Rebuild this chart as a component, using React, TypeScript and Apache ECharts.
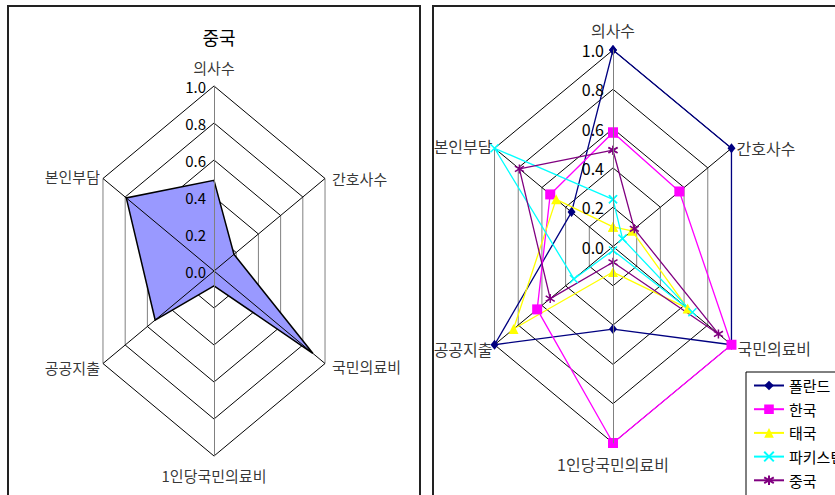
import React, { useEffect, useRef } from 'react';
import * as echarts from 'echarts';

// Radar axes, clockwise from the top
const AXES = ['의사수', '간호사수', '국민의료비', '1인당국민의료비', '공공지출', '본인부담'];
const RING_LEVELS = [0.2, 0.4, 0.6, 0.8, 1.0];
const COUNTRIES = ['폴란드', '한국', '태국', '파키스탄', '중국'];
const POLAND = [1.0, 1.0, 1.0, 0.42, 1.0, 0.35];
const KOREA = [0.58, 0.56, 1.0, 1.0, 0.64, 0.53];
const THAILAND = [0.1, 0.16, 0.63, 0.13, 0.84, 0.48];
const PAKISTAN = [0.24, 0.08, 0.67, 0.02, 0.33, 1.0];
const CHINA = [0.49, 0.18, 0.89, 0.08, 0.53, 0.79];
const LEFT_TITLE = '중국';

const FONT = '"Noto Sans CJK KR", "Noto Sans", sans-serif';

// value v on radar axis i -> point in the [-1, 1] plane
const polar = (i: number, v: number): [number, number] => [
  v * Math.sin((i * Math.PI) / 3),
  v * Math.cos((i * Math.PI) / 3),
];

// hexagon rings; vertical edges flagged to be drawn grey
function ringSegments() {
  const segs: number[][] = [];
  RING_LEVELS.forEach((r) => {
    for (let i = 0; i < 6; i++) {
      const j = (i + 1) % 6;
      const a = polar(i, r);
      const b = polar(j, r);
      segs.push([a[0], a[1], b[0], b[1], i === 1 || i === 4 ? 1 : 0]);
    }
  });
  return segs;
}

// slanted spokes (the vertical ones come from the value axis line)
function spokeSegments() {
  return [1, 2, 4, 5].map((i) => {
    const p = polar(i, 1);
    return [0, 0, p[0], p[1], 0];
  });
}

function segmentSeries(idx: number, data: number[][], z: number) {
  return {
    type: 'custom',
    xAxisIndex: idx,
    yAxisIndex: idx,
    silent: true,
    z,
    encode: { x: [0, 2], y: [1, 3] },
    data,
    renderItem: (_p: any, api: any) => {
      const p1 = api.coord([api.value(0), api.value(1)]);
      const p2 = api.coord([api.value(2), api.value(3)]);
      return {
        type: 'line',
        shape: { x1: p1[0], y1: p1[1], x2: p2[0], y2: p2[1] },
        style: { stroke: api.value(4) === 1 ? '#808080' : '#000', lineWidth: 1 },
      };
    },
  };
}

type LabelCfg = { position: string; distance: number; offset?: number[] };

function axisNameSeries(idx: number, fontSize: number, cfg: LabelCfg[]) {
  return {
    type: 'scatter',
    xAxisIndex: idx,
    yAxisIndex: idx,
    silent: true,
    symbolSize: 0,
    z: 5,
    data: AXES.map((name, i) => ({
      name,
      value: polar(i, 1),
      label: {
        show: true,
        formatter: '{b}',
        position: cfg[i].position,
        distance: cfg[i].distance,
        offset: cfg[i].offset || [0, 0],
        fontSize,
        fontFamily: FONT,
        color: '#000',
      },
    })),
  };
}

const closed = (vals: number[]) => [...vals, vals[0]].map((v, i) => polar(i % 6, v));

function countrySeries(name: string, vals: number[], color: string, symbol: string, size: any, stroke: boolean) {
  return {
    name,
    type: 'line',
    xAxisIndex: 1,
    yAxisIndex: 1,
    clip: false,
    z: 3,
    data: closed(vals),
    symbol,
    symbolSize: size,
    showSymbol: true,
    lineStyle: { color, width: 1.3 },
    itemStyle: stroke
      ? { color, borderColor: color, borderWidth: 1.5 }
      : { color, borderWidth: 0 },
  };
}

// value axis drawn through the centre of the hexagon (offset = -half grid width)
function valueAxes(idx: number, halfWidth: number, fontSize: number, margin: number) {
  return {
    x: {
      type: 'value',
      gridIndex: idx,
      min: -1,
      max: 1,
      show: false,
    },
    y: {
      type: 'value',
      gridIndex: idx,
      min: -1,
      max: 1,
      interval: 0.2,
      offset: -halfWidth,
      z: 4,
      axisLine: { show: true, onZero: false, lineStyle: { color: '#808080', width: 1 } },
      axisTick: { show: false },
      splitLine: { show: false },
      axisLabel: {
        margin,
        fontSize,
        fontFamily: FONT,
        color: '#000',
        formatter: (v: number) => (v < -0.001 ? '' : Math.abs(v).toFixed(1)),
      },
    },
  };
}

export default function App() {
  const ref = useRef<HTMLDivElement>(null);

  useEffect(() => {
    if (!ref.current) return;
    const chart = echarts.init(ref.current, null, { renderer: 'svg' });

    const leftAxes = valueAxes(0, 128.2, 15, 8);
    const rightAxes = valueAxes(1, 136.8, 16, 9);

    chart.setOption({
      animation: false,
      backgroundColor: '#fff',
      title: {
        text: LEFT_TITLE,
        left: 214,
        top: 23,
        textAlign: 'center',
        textStyle: { fontSize: 18, fontWeight: 'normal', fontFamily: FONT, color: '#000' },
      },
      legend: {
        data: COUNTRIES,
        orient: 'vertical',
        left: 746,
        top: 372,
        height: 200,
        itemWidth: 30,
        itemHeight: 12,
        itemGap: 8.7,
        padding: [6, 12, 10, 7],
        borderColor: '#000',
        borderWidth: 1,
        backgroundColor: '#fff',
        textStyle: { fontSize: 15, fontFamily: FONT, color: '#000' },
      },
      grid: [
        { left: 85.8, top: 86, width: 256.4, height: 370 },
        { left: 476.2, top: 50, width: 273.6, height: 393 },
      ],
      xAxis: [leftAxes.x, rightAxes.x],
      yAxis: [leftAxes.y, rightAxes.y],
      graphic: [
        {
          type: 'rect',
          z: 100,
          shape: { x: 8, y: 6, width: 412, height: 500 },
          style: { fill: 'none', stroke: '#222', lineWidth: 2 },
        },
        {
          type: 'rect',
          z: 100,
          shape: { x: 433, y: 6, width: 420, height: 500 },
          style: { fill: 'none', stroke: '#222', lineWidth: 2 },
        },
      ],
      series: [
        segmentSeries(0, ringSegments(), 1),
        {
          type: 'custom',
          xAxisIndex: 0,
          yAxisIndex: 0,
          silent: true,
          z: 2,
          data: CHINA.map((v, i) => polar(i, v)),
          renderItem: (params: any, api: any) => {
            if (params.dataIndex !== 0) return null;
            const pts = CHINA.map((v, i) => api.coord(polar(i, v)));
            return {
              type: 'polygon',
              shape: { points: pts },
              style: { fill: '#9999FF', stroke: '#000', lineWidth: 1.5 },
            };
          },
        },
        segmentSeries(0, spokeSegments(), 3),
        axisNameSeries(0, 15, [
          { position: 'top', distance: 11 },
          { position: 'right', distance: 7 },
          { position: 'right', distance: 7, offset: [0, 3] },
          { position: 'bottom', distance: 12 },
          { position: 'left', distance: 3, offset: [0, 4] },
          { position: 'left', distance: 3, offset: [0, -2] },
        ]),
        segmentSeries(1, ringSegments(), 1),
        segmentSeries(1, spokeSegments(), 1),
        countrySeries(COUNTRIES[0], POLAND, '#000080', 'diamond', [8, 10], false),
        countrySeries(COUNTRIES[1], KOREA, '#FF00FF', 'rect', 10, false),
        countrySeries(COUNTRIES[2], THAILAND, '#FFFF00', 'triangle', 10, false),
        countrySeries(COUNTRIES[3], PAKISTAN, '#00FFFF', 'path://M0,0L10,10M10,0L0,10', 8, true),
        countrySeries(COUNTRIES[4], CHINA, '#800080', 'path://M5,0L5,10M0,2L10,8M0,8L10,2', 9, true),
        axisNameSeries(1, 16, [
          { position: 'top', distance: 12 },
          { position: 'right', distance: 5 },
          { position: 'right', distance: 6, offset: [0, 3] },
          { position: 'bottom', distance: 13 },
          { position: 'left', distance: 2, offset: [0, 4] },
          { position: 'left', distance: 2, offset: [0, -2] },
        ]),
      ],
    });

    return () => chart.dispose();
  }, []);

  return (
    <div
      ref={ref}
      style={{ position: 'fixed', left: 0, top: 0, width: 835, height: 495 }}
    />
  );
}
